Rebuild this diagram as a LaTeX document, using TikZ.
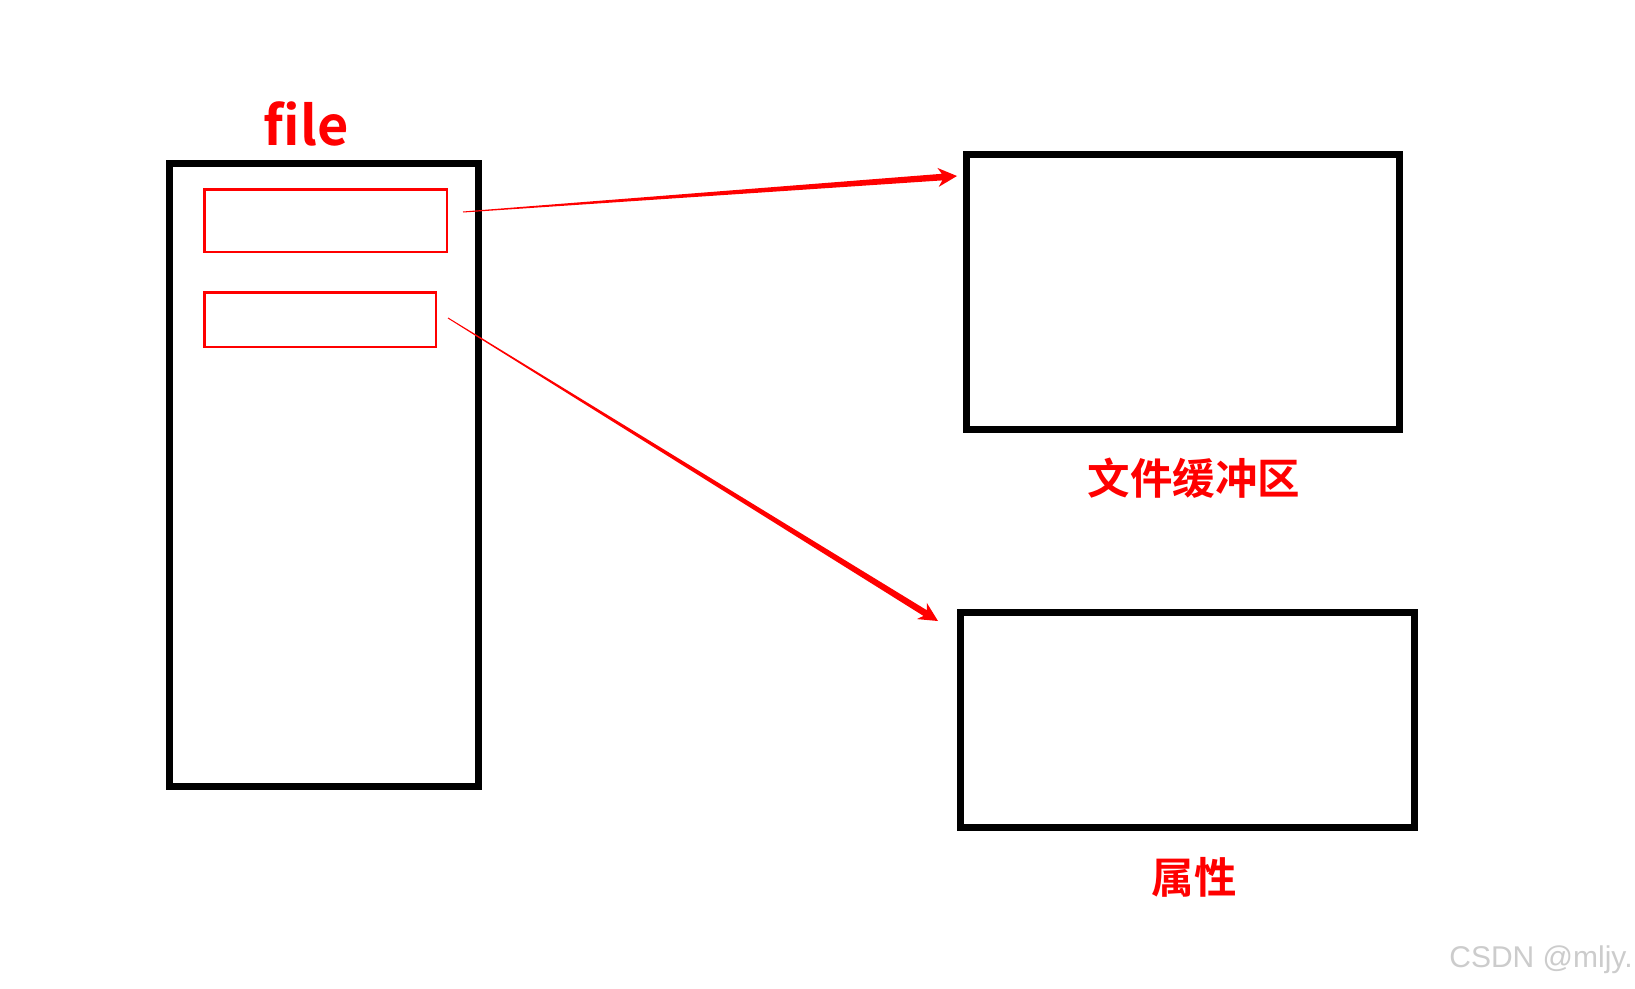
\documentclass[tikz,border=0pt]{standalone}
\usepackage{fontspec}
\newfontfamily\cjk{Noto Sans CJK SC}[BoldFont={Noto Sans CJK SC Bold}]
\newfontfamily\wm{Liberation Sans}
\usetikzlibrary{calc}
\tikzset{
  blackbox/.style={draw=black, line width=7pt, inner sep=0pt, fill=none},
  redbox/.style={draw=red, line width=2.5pt, inner sep=0pt},
  redlabel/.style={text=red, font=\cjk\bfseries, inner sep=0pt},
}
\newcommand\taperarrow[2]{%
  \coordinate (ta-b) at ($(#2)!15pt!(#1)$);
  \coordinate (ta-bb) at ($(#2)!19pt!(#1)$);
  \fill[red] ($(#1)!0.5pt!90:(#2)$) -- ($(ta-b)!3.3pt!90:(#2)$) -- ($(ta-bb)!9.5pt!90:(#2)$)
     -- (#2) -- ($(ta-bb)!9.5pt!-90:(#2)$) -- ($(ta-b)!3.3pt!-90:(#2)$) -- ($(#1)!0.5pt!-90:(#2)$) -- cycle;
}
\begin{document}
\begin{tikzpicture}[x=1pt,y=-1pt]
\useasboundingbox[fill=white] (0,0) rectangle (1635,988);
% file box
\node[blackbox, minimum width=309pt, minimum height=623pt] (file) at (324,475) {};
\node[redbox, minimum width=242.5pt, minimum height=62.5pt] (r1) at (325.5,220.5) {};
\node[redbox, minimum width=231.5pt, minimum height=54.5pt] (r2) at (320,319.5) {};
\node[redlabel, font=\cjk\bfseries\fontsize{54}{58}\selectfont, anchor=base] (filelbl) at (306,145) {file};
% buffer box
\node[blackbox, minimum width=433pt, minimum height=275pt] (buf) at (1183,292) {};
\node[redlabel, font=\cjk\bfseries\fontsize{42.5}{45}\selectfont] (buflbl) at (1194,478) {文件缓冲区};
% attribute box
\node[blackbox, minimum width=454pt, minimum height=215pt] (attr) at (1187.5,720) {};
\node[redlabel, font=\cjk\bfseries\fontsize{42.5}{45}\selectfont] (attrlbl) at (1194,877) {属性};
% arrows
\coordinate (a1s) at (463,212);
\coordinate (a1e) at (957,176);
\coordinate (a2s) at (448,318);
\coordinate (a2e) at (938,621);
\taperarrow{a1s}{a1e}
\taperarrow{a2s}{a2e}
% watermark
\node[text=gray!40, font=\wm\fontsize{30}{32}\selectfont, inner sep=0pt] (wmk) at (1541,960) {CSDN @mljy.};
\end{tikzpicture}
\end{document}
